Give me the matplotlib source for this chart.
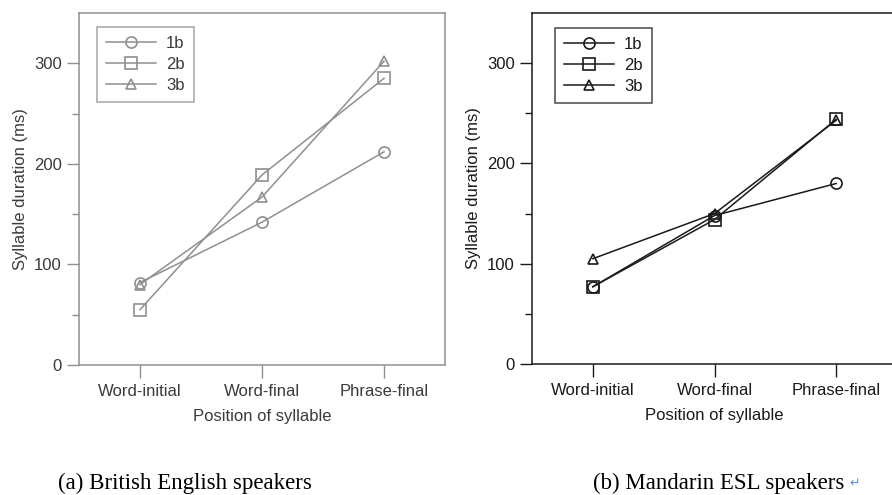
import numpy as np
import matplotlib.pyplot as plt

plt.rcParams['font.family'] = ['Liberation Sans', 'DejaVu Sans']

# positions on x axis
positions = ['Word-initial', 'Word-final', 'Phrase-final']
series_names = ['1b', '2b', '3b']
markers = ['o', 's', '^']

# (a) British English speakers
british_1b = [82, 142, 212]
british_2b = [55, 189, 285]
british_3b = [80, 167, 302]

# (b) Mandarin ESL speakers
mandarin_1b = [77, 148, 180]
mandarin_2b = [77, 144, 244]
mandarin_3b = [105, 150, 243]

captions = ['(a) British English speakers', '(b) Mandarin ESL speakers']

fig = plt.figure(figsize=(8.92, 4.95), dpi=100)
ax1 = fig.add_axes([79/892, 1-365/495, 366/892, 352/495])
ax2 = fig.add_axes([532/892, 1-364/495, 365/892, 351/495])

def draw_panel(ax, data, color, textcolor, leg_anchor):
    x = np.arange(1, len(positions)+1)
    for vals, name, m in zip(data, series_names, markers):
        ms = 8 if m != '^' else 7
        ax.plot(x, vals, color=color, lw=1.1, marker=m, ms=ms,
                mfc='none', mec=color, mew=1.2, label=name)
    ax.set_xlim(0.5, 3.5)
    ax.set_ylim(0, 350)
    ax.set_xticks(x)
    ax.set_xticklabels(positions)
    ax.set_yticks([0, 100, 200, 300])
    ax.set_yticks([50, 150, 250], minor=True)
    ax.tick_params(axis='both', which='major', direction='out', length=9,
                   width=1, color=color, labelcolor=textcolor, labelsize=12)
    ax.tick_params(axis='x', which='major', pad=5)
    ax.tick_params(axis='y', which='minor', direction='out', length=5,
                   width=1, color=color)
    for s in ax.spines.values():
        s.set_color(color)
        s.set_linewidth(1.1)
    ax.set_ylabel('Syllable duration (ms)', fontsize=12, color=textcolor, labelpad=4)
    ax.set_xlabel('Position of syllable', fontsize=12, color=textcolor, labelpad=7)
    leg = ax.legend(loc='upper left', bbox_to_anchor=leg_anchor, fancybox=False,
                    edgecolor=color, fontsize=12, handlelength=3.0,
                    borderpad=0.55, labelspacing=0.36, handletextpad=0.6,
                    borderaxespad=0)
    leg.get_frame().set_linewidth(1.1)
    for t in leg.get_texts():
        t.set_color(textcolor)

draw_panel(ax1, [british_1b, british_2b, british_3b], '#8f8f8f', '#3a3a3a', (0.049, 0.960))
draw_panel(ax2, [mandarin_1b, mandarin_2b, mandarin_3b], '#1a1a1a', '#1a1a1a', (0.063, 0.957))

fig.text(185/892, 1-489/495, captions[0], ha='center', va='baseline',
         family='Liberation Serif', fontsize=16.5)
fig.text(719/892, 1-489/495, captions[1], ha='center', va='baseline',
         family='Liberation Serif', fontsize=16.5)
fig.text(849/892, 1-483/495, '\u21b5', ha='left', va='center',
         family='DejaVu Sans', fontsize=9, color='#5a8fd8')

fig.savefig('out.png', dpi=100)
